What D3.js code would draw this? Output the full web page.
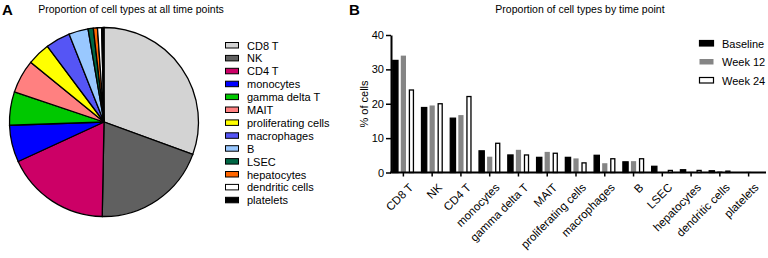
<!DOCTYPE html>
<html lang="en">
<head>
<meta charset="utf-8">
<script src="https://d3js.org/d3.v7.min.js"></script>
<style>
  body { margin: 0; background: white; }
  svg { display: block; font-family: "Liberation Sans", Arial, sans-serif; }
</style>
</head>
<body>
<svg id="chart" width="768" height="258"></svg>
<script>
// cell types (same order in pie and bars)
const cellTypes = ["CD8 T", "NK", "CD4 T", "monocytes", "gamma delta T", "MAIT",
  "proliferating cells", "macrophages", "B", "LSEC", "hepatocytes", "dendritic cells", "platelets"];
const pieColors = ["#d3d3d3", "#606060", "#cc0066", "#0000ff", "#00c800", "#ff8080",
  "#ffff00", "#5555f5", "#99c8ff", "#006644", "#ff6600", "#ffffff", "#000000"];
// % of cells at all time points
const pieValues = [30.5, 19.7, 17.8, 6.3, 5.7, 5.7, 3.9, 4.2, 3.3, 0.9, 0.7, 0.7, 0.4];

// % of cells by time point
const timePoints = ["Baseline", "Week 12", "Week 24"];
const baseline = [32.6, 18.9, 15.8, 6.3, 5.1, 4.4, 4.4, 5.0, 3.1, 1.8, 0.8, 0.5, 0.0];
const week12   = [34.0, 19.5, 16.7, 4.6, 6.6, 6.0, 4.1, 2.7, 3.3, 0.1, 0.2, 0.4, 0.2];
const week24   = [24.0, 20.0, 22.1, 8.5, 5.1, 5.6, 2.8, 4.0, 4.0, 0.6, 0.6, 0.4, 0.0];
const yTicks = [0, 10, 20, 30, 40];

const svg = d3.select("#chart");

// ---------- panel A: pie ----------
svg.append("text").attr("x", 2).attr("y", 15)
  .style("font-size", "15px").style("font-weight", "bold").text("A");
svg.append("text").attr("x", 131).attr("y", 13).attr("text-anchor", "middle")
  .style("font-size", "10.5px").text("Proportion of cell types at all time points");

const pieData = cellTypes.map((c, i) => ({ label: c, value: pieValues[i], color: pieColors[i] }));
const pie = d3.pie().sort(null).value(d => d.value);
const arc = d3.arc().innerRadius(0).outerRadius(94.5);

const pieG = svg.append("g").attr("transform", "translate(104,122)");
pieG.selectAll("path")
  .data(pie(pieData))
  .join("path")
  .attr("d", arc)
  .attr("fill", d => d.data.color)
  .attr("stroke", "black")
  .attr("stroke-width", 1.3);

// legend
const legA = svg.append("g").attr("transform", "translate(225,42)");
const legRows = legA.selectAll("g").data(pieData).join("g")
  .attr("transform", (d, i) => `translate(0,${i * 12.9})`);
legRows.append("rect").attr("x", 0.5).attr("y", 0.5).attr("width", 13).attr("height", 5.5)
  .attr("fill", d => d.color).attr("stroke", "black").attr("stroke-width", 1);
legRows.append("text").attr("x", 22).attr("y", 7.5)
  .style("font-size", "11px").text(d => d.label);

// ---------- panel B: grouped bars ----------
svg.append("text").attr("x", 349).attr("y", 15)
  .style("font-size", "15px").style("font-weight", "bold").text("B");
svg.append("text").attr("x", 580).attr("y", 13).attr("text-anchor", "middle")
  .style("font-size", "10.5px").text("Proportion of cell types by time point");

const seriesValues = [baseline, week12, week24];
const seriesFill = ["#000000", "#858585", "#ffffff"];
const seriesStroke = ["#000000", "none", "#000000"];

const x0 = d3.scaleBand().domain(cellTypes).range([389, 763])
  .paddingInner(0.26).paddingOuter(0.13);
const x1 = d3.scaleBand().domain(timePoints).range([0, x0.bandwidth()]).paddingInner(0.35);
const y = d3.scaleLinear().domain([0, 40]).range([172.5, 35]);

const barData = [];
cellTypes.forEach((c, i) => {
  timePoints.forEach((t, j) => {
    barData.push({ cat: c, tp: t, j: j, value: seriesValues[j][i] });
  });
});

svg.append("g").selectAll("rect")
  .data(barData)
  .join("rect")
  .attr("x", d => x0(d.cat) + x1(d.tp) + (d.j === 2 ? 0.6 : 0))
  .attr("y", d => y(d.value))
  .attr("width", d => x1.bandwidth() - (d.j === 2 ? 1.2 : 0))
  .attr("height", d => y(0) - y(d.value))
  .attr("fill", d => seriesFill[d.j])
  .attr("stroke", d => seriesStroke[d.j])
  .attr("stroke-width", 1.3);

// y axis (major + minor ticks)
const yAxisG = svg.append("g").attr("transform", "translate(391,0)");
yAxisG.call(d3.axisLeft(y).tickValues(d3.range(5, 40, 10)).tickSize(3).tickFormat(""));
yAxisG.call(d3.axisLeft(y).tickValues(yTicks).tickSize(5).tickSizeOuter(0).tickPadding(2));
yAxisG.selectAll(".domain").attr("stroke-width", 2);
yAxisG.selectAll("line").attr("stroke-width", 1.5);
yAxisG.selectAll("text").style("font-size", "11px").attr("fill", "black")
  .style("font-family", "'Liberation Sans', Arial, sans-serif");

svg.append("text")
  .attr("transform", "translate(368,104) rotate(-90)")
  .attr("text-anchor", "middle").style("font-size", "11px").text("% of cells");

// x axis
const xAxisG = svg.append("g").attr("transform", `translate(0,${y(0)})`);
xAxisG.call(d3.axisBottom(x0).tickSize(4).tickSizeOuter(0).tickFormat(""));
xAxisG.select(".domain").attr("d", `M390,0H766`).attr("stroke-width", 2);
xAxisG.selectAll(".tick line").attr("stroke-width", 1.5);

svg.append("g").selectAll("text")
  .data(cellTypes)
  .join("text")
  .attr("transform", d => `translate(${x0(d) + x0.bandwidth() / 2 + 5},${y(0) + 10}) rotate(-45)`)
  .attr("text-anchor", "end")
  .attr("dy", "0.7em")
  .style("font-size", "11.5px")
  .text(d => d);

// legend for time points
const legB = svg.append("g").attr("transform", "translate(699,40)");
const legBRows = legB.selectAll("g").data(timePoints).join("g")
  .attr("transform", (d, i) => `translate(0,${i * 18.5})`);
legBRows.append("rect").attr("x", 0.5).attr("y", 0.5).attr("width", 14).attr("height", 5.5)
  .attr("fill", (d, i) => seriesFill[i])
  .attr("stroke", (d, i) => seriesStroke[i]).attr("stroke-width", 1.2);
legBRows.append("text").attr("x", 23).attr("y", 7.5)
  .style("font-size", "11px").text(d => d);
</script>
</body>
</html>
